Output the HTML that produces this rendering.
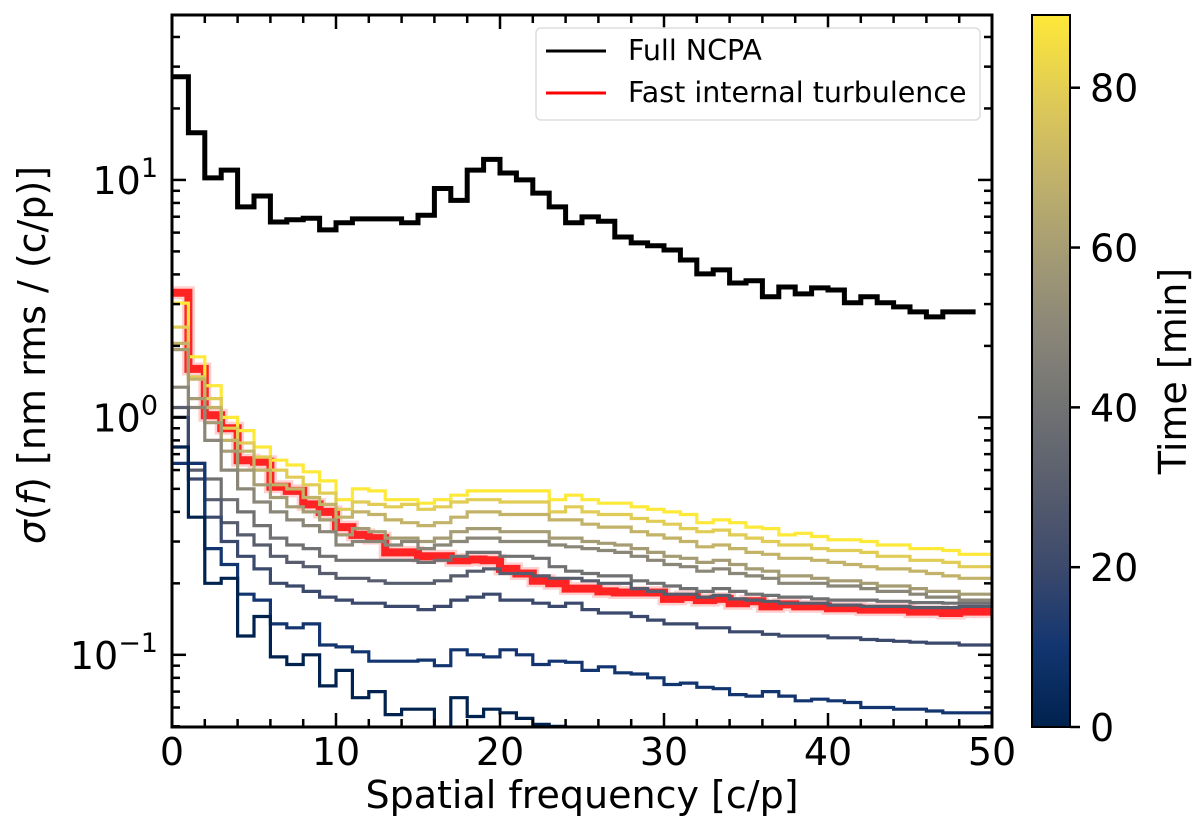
<!DOCTYPE html>
<html><head><meta charset="utf-8"><style>
html,body{margin:0;padding:0;background:#fff;}
svg{display:block;font-family:"DejaVu Sans","Liberation Sans",sans-serif;}
</style></head><body>
<svg id="chart" width="1200" height="839" viewBox="0 0 1200 839" xmlns="http://www.w3.org/2000/svg">
<defs>
<linearGradient id="cividis" x1="0" y1="1" x2="0" y2="0">
<stop offset="0" stop-color="#00224e"/><stop offset="0.111" stop-color="#123570"/><stop offset="0.222" stop-color="#3b496c"/><stop offset="0.333" stop-color="#575d6d"/><stop offset="0.444" stop-color="#707173"/><stop offset="0.556" stop-color="#8a8678"/><stop offset="0.667" stop-color="#a59c74"/><stop offset="0.778" stop-color="#c3b369"/><stop offset="0.889" stop-color="#e1cc55"/><stop offset="1" stop-color="#fee838"/>
</linearGradient>
<clipPath id="plotclip"><rect x="172" y="15" width="820" height="712"/></clipPath>
</defs>
<g id="series" clip-path="url(#plotclip)"></g>
<g id="axes"></g>
<g>
<rect x="536" y="28" width="444" height="92" rx="5" fill="#fff" fill-opacity="0.85" stroke="#ddd" stroke-width="1.5"/>
<line x1="546" y1="51" x2="606" y2="51" stroke="#000" stroke-width="3"/>
<text x="628" y="60" font-size="28.5">Full NCPA</text>
<line x1="546" y1="93" x2="606" y2="93" stroke="#f00" stroke-width="3"/>
<text x="628" y="102" font-size="28.5">Fast internal turbulence</text>
</g>
<text x="582" y="808" font-size="38" text-anchor="middle">Spatial frequency [c/p]</text>
<text transform="translate(45,355) rotate(-90)" font-size="38" text-anchor="middle"><tspan font-style="italic">σ</tspan>(<tspan font-style="italic">f</tspan>) [nm rms / (c/p)]</text>
<rect x="1032" y="15" width="38" height="712" fill="url(#cividis)" stroke="#000" stroke-width="2"/>
<g id="cbar"></g>
<text transform="translate(1186,371) rotate(-90)" font-size="38" text-anchor="middle">Time [min]</text>
</svg>
<script>
// ---- data ----
const ncpaValues = [27.2,15.8,10.2,11.0,7.7,8.56,6.65,6.8,6.9,6.16,6.6,6.85,6.85,6.85,6.6,7.1,9.2,8.2,11.0,12.2,10.7,10.0,8.8,7.7,6.6,6.99,6.7,5.75,5.43,5.28,5.07,4.6,4.02,4.18,3.68,3.76,3.22,3.54,3.31,3.51,3.44,3.04,3.22,3.04,2.92,2.78,2.65,2.78,2.78];
const fastTurbValues = [3.35,1.6,1.02,0.9,0.66,0.65,0.51,0.49,0.43,0.4,0.345,0.32,0.31,0.27,0.27,0.26,0.26,0.25,0.252,0.25,0.23,0.22,0.205,0.2,0.19,0.19,0.185,0.183,0.183,0.183,0.172,0.175,0.17,0.172,0.165,0.168,0.16,0.163,0.16,0.16,0.157,0.157,0.155,0.155,0.155,0.152,0.152,0.15,0.152,0.152];
const timesMin = [90,80,70,60,50,40,30,20,10,0];
const t90 = [3.03,1.8,1.36,1.0,0.88,0.75,0.66,0.63,0.59,0.54,0.45,0.50,0.49,0.45,0.45,0.435,0.45,0.47,0.49,0.49,0.49,0.49,0.49,0.45,0.47,0.45,0.435,0.435,0.42,0.41,0.40,0.39,0.36,0.37,0.36,0.345,0.34,0.32,0.325,0.315,0.305,0.305,0.30,0.29,0.29,0.28,0.28,0.275,0.265,0.265];
const t80 = [2.4,1.48,1.2,0.9,0.78,0.68,0.6,0.56,0.52,0.48,0.41,0.44,0.43,0.42,0.43,0.41,0.42,0.44,0.45,0.45,0.44,0.44,0.44,0.40,0.42,0.40,0.39,0.39,0.375,0.365,0.355,0.34,0.33,0.335,0.32,0.31,0.30,0.29,0.29,0.28,0.275,0.275,0.27,0.26,0.26,0.25,0.25,0.245,0.235,0.235];
const t70 = [2.05,1.45,1.1,0.8,0.72,0.6,0.52,0.5,0.46,0.43,0.38,0.40,0.39,0.37,0.36,0.35,0.36,0.38,0.40,0.40,0.39,0.39,0.39,0.37,0.37,0.355,0.345,0.345,0.33,0.32,0.31,0.30,0.285,0.29,0.28,0.27,0.265,0.255,0.255,0.25,0.245,0.24,0.235,0.23,0.23,0.225,0.22,0.215,0.21,0.21];
const t60 = [1.93,1.2,0.95,0.72,0.6,0.52,0.46,0.42,0.4,0.37,0.32,0.34,0.33,0.31,0.31,0.30,0.31,0.33,0.34,0.34,0.33,0.33,0.33,0.31,0.31,0.30,0.295,0.29,0.28,0.27,0.26,0.255,0.245,0.25,0.24,0.23,0.225,0.215,0.215,0.21,0.205,0.205,0.2,0.195,0.195,0.19,0.185,0.185,0.18,0.18];
const t50 = [1.34,1.1,0.8,0.6,0.5,0.44,0.4,0.37,0.35,0.33,0.29,0.30,0.30,0.29,0.30,0.28,0.29,0.30,0.31,0.31,0.30,0.30,0.30,0.29,0.285,0.28,0.275,0.27,0.26,0.25,0.24,0.235,0.225,0.23,0.22,0.215,0.21,0.2,0.2,0.2,0.195,0.195,0.19,0.185,0.185,0.18,0.175,0.175,0.17,0.17];
const t40 = [1.0,0.64,0.55,0.45,0.4,0.35,0.31,0.29,0.28,0.26,0.25,0.25,0.25,0.25,0.25,0.245,0.25,0.26,0.27,0.27,0.26,0.26,0.255,0.235,0.225,0.22,0.215,0.215,0.205,0.2,0.195,0.19,0.185,0.19,0.185,0.18,0.178,0.175,0.175,0.172,0.17,0.17,0.17,0.168,0.168,0.166,0.166,0.165,0.165,0.165];
const t30 = [1.1,0.6,0.45,0.36,0.32,0.29,0.26,0.245,0.235,0.22,0.21,0.21,0.205,0.2,0.2,0.2,0.205,0.215,0.225,0.23,0.22,0.22,0.215,0.21,0.21,0.205,0.2,0.2,0.19,0.185,0.18,0.18,0.175,0.178,0.172,0.17,0.168,0.165,0.165,0.165,0.162,0.162,0.16,0.16,0.16,0.158,0.158,0.158,0.16,0.16];
const t20 = [1.0,0.55,0.38,0.3,0.26,0.23,0.2,0.195,0.185,0.175,0.17,0.165,0.165,0.16,0.16,0.155,0.16,0.17,0.175,0.18,0.17,0.17,0.165,0.16,0.165,0.155,0.15,0.15,0.145,0.14,0.135,0.135,0.13,0.13,0.125,0.125,0.122,0.12,0.12,0.12,0.118,0.118,0.116,0.115,0.114,0.113,0.112,0.112,0.11,0.11];
const t10 = [0.64,0.64,0.28,0.24,0.18,0.17,0.135,0.13,0.135,0.11,0.108,0.103,0.094,0.094,0.094,0.095,0.09,0.105,0.1,0.098,0.105,0.1,0.091,0.094,0.093,0.086,0.089,0.084,0.083,0.08,0.075,0.076,0.073,0.072,0.068,0.067,0.07,0.067,0.064,0.065,0.064,0.063,0.06,0.06,0.059,0.059,0.058,0.057,0.057,0.057];
const t0 = [0.75,0.38,0.2,0.21,0.12,0.145,0.098,0.091,0.1,0.074,0.086,0.066,0.07,0.056,0.059,0.059,0.045,0.066,0.055,0.059,0.057,0.054,0.051,0.05,0.049,0.047,0.046,0.045,0.044,0.043,0.042,0.042,0.041,0.04,0.04,0.039,0.039,0.038,0.038,0.037,0.037,0.036,0.036,0.035,0.035,0.035,0.034,0.034,0.034,0.033];
const timeSeries = [t90,t80,t70,t60,t50,t40,t30,t20,t10,t0];
const xTickLabels = ["0","10","20","30","40","50"];
const cbarTickLabels = ["0","20","40","60","80"];

// ---- scales ----
const X0=172,X1=992,Y0=15,Y1=727,XMIN=0,XMAX=50;
const LMIN=Math.log10(0.04966),LMAX=Math.log10(49.5);
const xs=v=>X0+(v-XMIN)/(XMAX-XMIN)*(X1-X0);
const ys=v=>Y1-(Math.log10(v)-LMIN)/(LMAX-LMIN)*(Y1-Y0);
const cs=t=>727-t/89.1*712;
const NS="http://www.w3.org/2000/svg";
function mk(tag,attrs,parent){const e=document.createElementNS(NS,tag);for(const k in attrs)e.setAttribute(k,attrs[k]);parent.appendChild(e);return e;}
function stepPath(vals){let d="";vals.forEach((v,i)=>{const y=ys(v).toFixed(1);d+=(i===0?"M":"L")+xs(i).toFixed(1)+","+y+"L"+xs(i+1).toFixed(1)+","+y;});return d;}
const stops=[[0,[0,34,78]],[0.111,[18,53,112]],[0.222,[59,73,108]],[0.333,[87,93,109]],[0.444,[112,113,115]],[0.556,[138,134,120]],[0.667,[165,156,116]],[0.778,[195,179,105]],[0.889,[225,204,85]],[1,[254,232,56]]];
function cividis(f){for(let i=1;i<stops.length;i++){if(f<=stops[i][0]){const a=stops[i-1],b=stops[i],u=(f-a[0])/(b[0]-a[0]);const c=a[1].map((v,k)=>Math.round(v+(b[1][k]-v)*u));return `rgb(${c.join(",")})`;}}return "rgb(254,232,56)";}

const series=document.getElementById("series");
let p=mk("path",{d:stepPath(fastTurbValues),fill:"none",stroke:"#ffd0d0",'stroke-width':13},series);


p=mk("path",{d:stepPath(fastTurbValues),fill:"none",stroke:"#ff1010",'stroke-width':8,'stroke-opacity':0.9},series);


timeSeries.forEach((vals,i)=>{
  const e=mk("path",{d:stepPath(vals),fill:"none",stroke:cividis(timesMin[i]/90),'stroke-width':3.2},series);
  
  
});
p=mk("path",{d:stepPath(ncpaValues),fill:"none",stroke:"#000",'stroke-width':5},series);



const ax=document.getElementById("axes");
let fr=mk("rect",{x:X0,y:Y0,width:X1-X0,height:Y1-Y0,fill:"none",stroke:"#000",'stroke-width':3},ax);


for(let v=0;v<=50;v+=2){
  const major=v%10===0,L=major?14:8,x=xs(v);
  mk("line",{x1:x,y1:Y1,x2:x,y2:Y1-L,stroke:"#000",'stroke-width':2.5},ax);
  mk("line",{x1:x,y1:Y0,x2:x,y2:Y0+L,stroke:"#000",'stroke-width':2.5},ax);
}
xTickLabels.forEach(lab=>{
  const t=mk("text",{x:xs(Number(lab)),y:765,'font-size':38,'text-anchor':"middle"},ax);t.textContent=lab;
  
  
});
for(let e=-2;e<=1;e++){for(let m=1;m<=9;m++){const v=m*Math.pow(10,e);if(v<0.0497||v>49.5)continue;const y=ys(v),L=m===1?14:8;
  mk("line",{x1:X0,y1:y,x2:X0+L,y2:y,stroke:"#000",'stroke-width':2.5},ax);
  mk("line",{x1:X1,y1:y,x2:X1-L,y2:y,stroke:"#000",'stroke-width':2.5},ax);}}
[-1,0,1].forEach(e=>{
  const t=mk("text",{x:158,y:ys(Math.pow(10,e))+14,'font-size':38,'text-anchor':"end"},ax);
  t.textContent="10";
  const s=mk("tspan",{dy:-17,'font-size':27},t);s.textContent=e<0?"−1":String(e);
  
  
});
const cb=document.getElementById("cbar");
cbarTickLabels.forEach(lab=>{
  const y=cs(Number(lab));
  mk("line",{x1:1070,y1:y,x2:1080,y2:y,stroke:"#000",'stroke-width':2.5},cb);
  const t=mk("text",{x:1090,y:y+14,'font-size':38},cb);t.textContent=lab;
  
  
});
</script>
</body></html>
